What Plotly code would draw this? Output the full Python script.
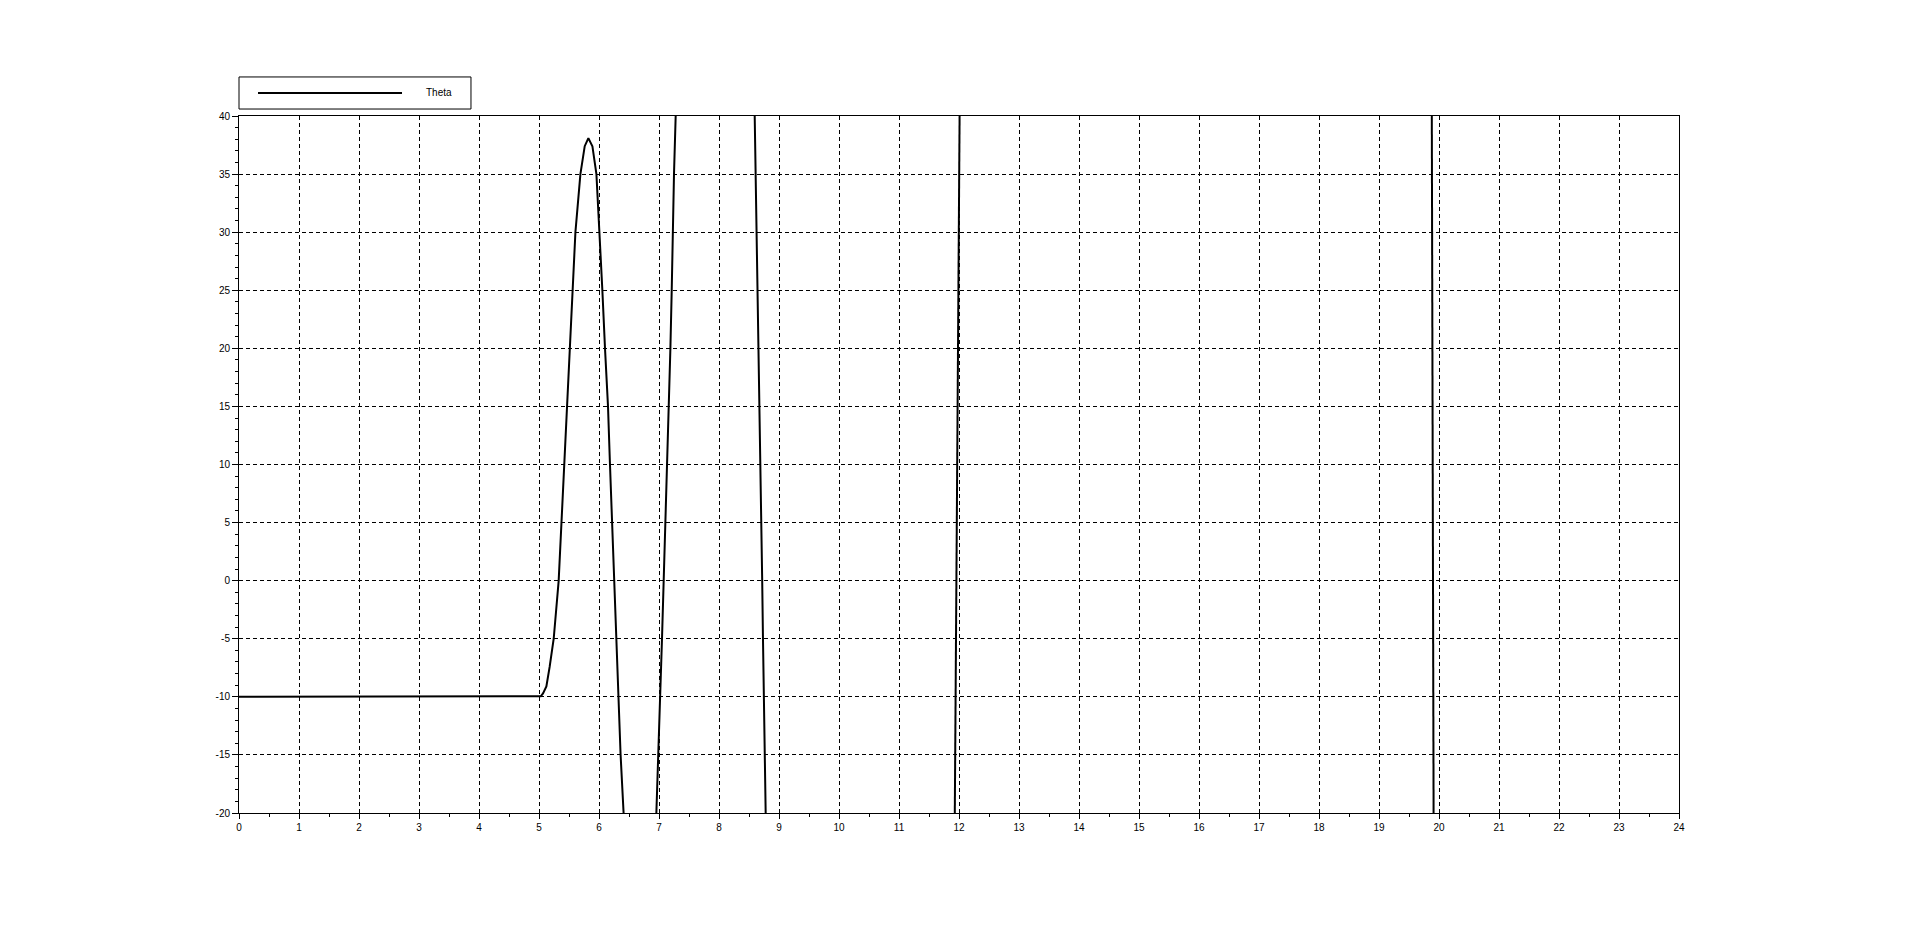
import plotly.graph_objects as go

# Theta(t); None separates the parts that leave the visible range
t_values = [0, 5.0, 5.03, 5.067, 5.123, 5.178, 5.245, 5.328, 5.373, 5.417, 5.461, 5.506, 5.55,
            5.607, 5.69, 5.762, 5.823, 5.89, 5.957, 6.012, 6.056, 6.1, 6.15, 6.183, 6.22,
            6.25, 6.29, 6.32, 6.36, 6.41,
            None,
            6.956, 6.99, 7.017, 7.05, 7.078, 7.107, 7.14, 7.162, 7.19, 7.212, 7.228, 7.25, 7.278,
            None,
            8.595, 8.612, 8.628, 8.645, 8.657, 8.673, 8.69, 8.705, 8.72, 8.733, 8.745, 8.767, 8.778,
            None,
            11.93, 11.96, 11.99, 12.01,
            None,
            19.91, 19.895, 19.88]
theta_values = [-10, -10, -9.95, -9.7, -9.1, -7.4, -5, 0, 5, 10, 15, 20, 25,
                30, 35, 37.4, 38.1, 37.4, 35, 30, 25, 20, 15, 10, 5,
                0, -5, -10, -15, -20,
                None,
                -20, -15, -10, -5, 0, 5, 10, 15, 20, 25, 30, 35, 40,
                None,
                40, 35, 30, 25, 20, 15, 10, 5, 0, -5, -10, -15, -20,
                None,
                -20, 0, 20, 40,
                None,
                -20, 10, 40]

x_ticks = list(range(0, 25))
y_ticks = list(range(-20, 41, 5))
series_name = "Theta"

FONT = "Liberation Sans, Arial, sans-serif"

fig = go.Figure()
fig.add_trace(go.Scatter(x=t_values, y=theta_values, mode="lines", name=series_name,
                         line=dict(color="black", width=2), connectgaps=False,
                         showlegend=False, hoverinfo="x+y"))

axis_common = dict(showline=True, linecolor="black", linewidth=1, mirror=True,
                   showgrid=True, gridcolor="black", gridwidth=1, griddash="4px,3px",
                   zeroline=False, ticks="outside", tickcolor="black", tickwidth=1,
                   tickfont=dict(family=FONT, size=10, color="black"))

fig.update_xaxes(range=[0, 24], tickvals=x_ticks, ticktext=[str(v) for v in x_ticks],
                 ticklen=5, minor=dict(dtick=0.5, ticklen=3, ticks="outside", tickcolor="black",
                                       showgrid=False),
                 **axis_common)
fig.update_yaxes(range=[-20, 40], tickvals=y_ticks, ticktext=[str(v) for v in y_ticks],
                 ticklen=6, minor=dict(dtick=1, ticklen=3, ticks="outside", tickcolor="black",
                                       showgrid=False),
                 **axis_common)

# legend box drawn in paper coordinates
fig.add_shape(type="rect", xref="paper", yref="paper", x0=0.0, x1=0.1611, y0=1.0100, y1=1.0560,
              line=dict(color="black", width=1), fillcolor="white")
fig.add_shape(type="line", xref="paper", yref="paper", x0=0.0132, x1=0.1132, y0=1.0330, y1=1.0330,
              line=dict(color="black", width=2))
fig.add_annotation(xref="paper", yref="paper", x=0.1285, y=1.0330, text=series_name,
                   showarrow=False, xanchor="left", yanchor="middle",
                   font=dict(family=FONT, size=10, color="black"))

fig.update_layout(width=1920, height=929, autosize=False,
                  margin=dict(l=239, r=241, t=116, b=116),
                  paper_bgcolor="white", plot_bgcolor="white", showlegend=False)

fig.write_html("out.html", config={"displayModeBar": False})
